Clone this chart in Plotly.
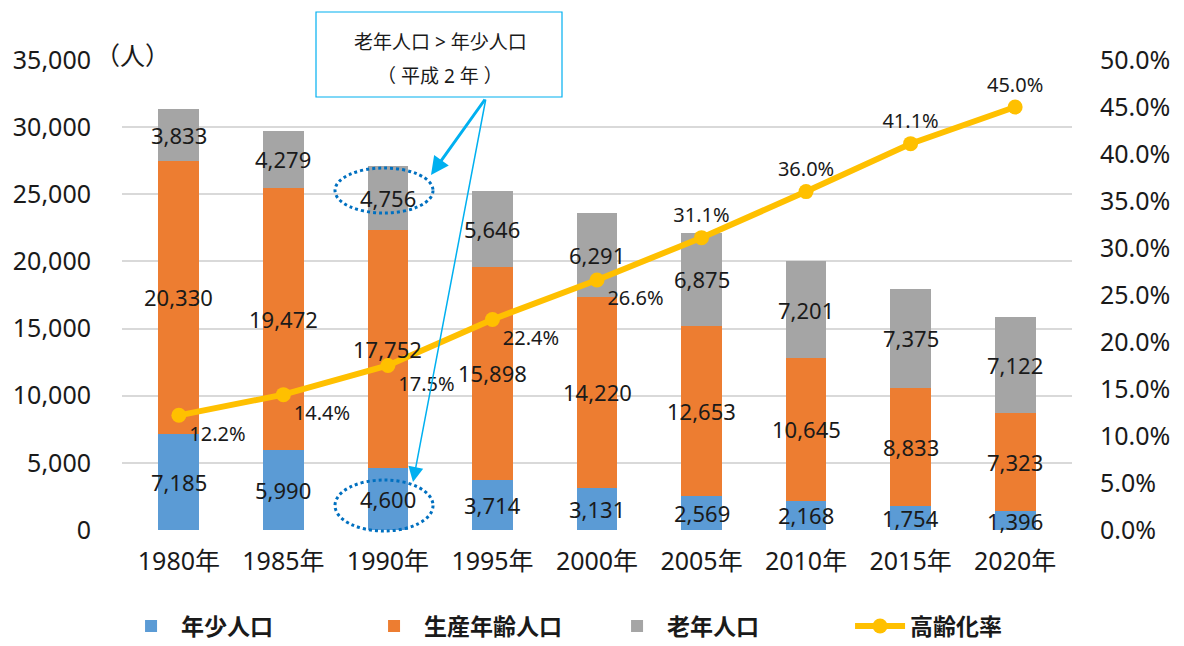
import plotly.graph_objects as go

years = ["1980年", "1985年", "1990年", "1995年", "2000年", "2005年", "2010年", "2015年", "2020年"]
young = [7185, 5990, 4600, 3714, 3131, 2569, 2168, 1754, 1396]
working = [20330, 19472, 17752, 15898, 14220, 12653, 10645, 8833, 7323]
elderly = [3833, 4279, 4756, 5646, 6291, 6875, 7201, 7375, 7122]
aging_rate = [12.2, 14.4, 17.5, 22.4, 26.6, 31.1, 36.0, 41.1, 45.0]
rate_label_pos = ["bottom right"] * 5 + ["top center"] * 4

FONT = "Noto Sans, Noto Sans CJK JP, sans-serif"
TXT = "#1a1a1a"

fig = go.Figure()
fig.add_bar(x=years, y=young, name="年少人口", marker=dict(color="#5B9BD5", line=dict(width=0)))
fig.add_bar(x=years, y=working, name="生産年齢人口", marker=dict(color="#ED7D31", line=dict(width=0)))
fig.add_bar(x=years, y=elderly, name="老年人口", marker=dict(color="#A5A5A5", line=dict(width=0)))
fig.add_scatter(
    x=years, y=aging_rate, name="高齢化率", yaxis="y2",
    mode="lines+markers+text",
    text=[f"{v:.1f}%" for v in aging_rate],
    textposition=rate_label_pos,
    textfont=dict(size=20, color=TXT, family=FONT),
    line=dict(color="#FFC000", width=6),
    marker=dict(color="#FFC000", size=15),
)

annotations = []
for i, yr in enumerate(years):
    base = 0
    for seg in (young[i], working[i], elderly[i]):
        annotations.append(dict(
            x=yr, y=base + seg / 2, xref="x", yref="y", text=f"{seg:,}",
            showarrow=False, font=dict(size=22, color=TXT, family=FONT),
        ))
        base += seg


# page-pixel -> paper coordinates (plot area spans page x 122..1072, y 60..530)
def px_x(x):
    return (x - 122) / 950


def px_y(y):
    return (530 - y) / 470


# axis unit
annotations.append(dict(x=px_x(132), y=px_y(55), xref="paper", yref="paper", text="（人）",
                        xanchor="center", yanchor="middle",
                        showarrow=False, font=dict(size=25, color=TXT, family=FONT)))
# callout box text
annotations.append(dict(x=px_x(440), y=px_y(42), xref="paper", yref="paper",
                        text="老年人口 > 年少人口", showarrow=False,
                        xanchor="center", yanchor="middle",
                        font=dict(size=19, color=TXT, family=FONT)))
annotations.append(dict(x=px_x(440), y=px_y(76), xref="paper", yref="paper",
                        text="（ 平成 2 年 ）", showarrow=False,
                        xanchor="center", yanchor="middle",
                        font=dict(size=19, color=TXT, family=FONT)))
# arrows
annotations.append(dict(x=px_x(431), y=px_y(175), xref="paper", yref="paper",
                        text="", showarrow=True, ax=486 - 431, ay=98 - 175,
                        arrowhead=2, arrowsize=1.2, arrowwidth=3, arrowcolor="#00B0F0"))
annotations.append(dict(x=px_x(413), y=px_y(482), xref="paper", yref="paper",
                        text="", showarrow=True, ax=486 - 413, ay=98 - 482,
                        arrowhead=2, arrowsize=2, arrowwidth=1.5, arrowcolor="#00B0F0"))

shapes = [
    dict(type="rect", xref="paper", yref="paper",
         x0=px_x(316), x1=px_x(562), y0=px_y(97), y1=px_y(12),
         line=dict(color="#00B0F0", width=1.2), fillcolor="white"),
    dict(type="circle", xref="paper", yref="paper",
         x0=px_x(335), x1=px_x(433), y0=px_y(213), y1=px_y(168),
         line=dict(color="#0070C0", width=3, dash="dot")),
    dict(type="circle", xref="paper", yref="paper",
         x0=px_x(335), x1=px_x(433), y0=px_y(531), y1=px_y(480),
         line=dict(color="#0070C0", width=3, dash="dot")),
]

# the page body adds an 8px offset, so the figure is 8px smaller and margins shifted
fig.update_layout(
    width=1176, height=638,
    margin=dict(l=114, r=112, t=52, b=116, autoexpand=False),
    barmode="stack", bargap=0.61,
    paper_bgcolor="white", plot_bgcolor="white",
    font=dict(family=FONT, color=TXT),
    xaxis=dict(showgrid=False, showline=False, ticks="", tickfont=dict(size=25, color=TXT),
               ticklabelstandoff=14, automargin=False),
    yaxis=dict(range=[0, 35000], dtick=5000, tickformat=",", gridcolor="#D9D9D9", gridwidth=1.5,
               zeroline=False, showline=False, tickfont=dict(size=25, color=TXT),
               ticklabelstandoff=30, automargin=False),
    yaxis2=dict(range=[0, 50], dtick=5, tickformat=".1f", ticksuffix="%", overlaying="y",
                side="right", showgrid=False, zeroline=False, showline=False,
                tickfont=dict(size=25, color=TXT), ticklabelstandoff=27, automargin=False),
    legend=dict(orientation="h", x=-0.001, xanchor="left", y=px_y(626), yanchor="middle",
                font=dict(size=23, color=TXT, family=FONT, weight="bold"), traceorder="normal",
                itemwidth=50, entrywidth=178, entrywidthmode="pixels"),
    annotations=annotations,
    shapes=shapes,
    showlegend=True,
)

fig.write_html("out.html")
